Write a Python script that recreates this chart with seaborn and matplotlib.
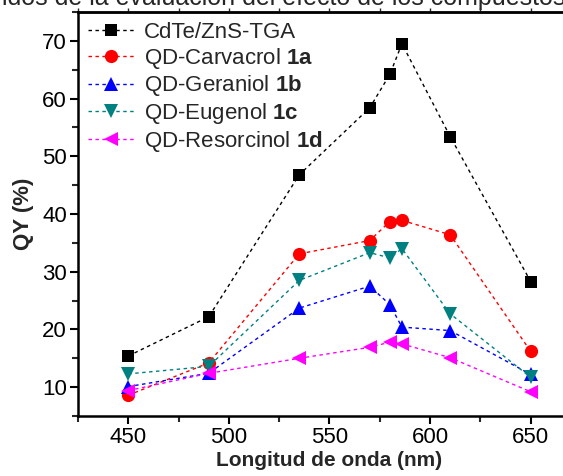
import matplotlib
matplotlib.use("Agg")
import matplotlib.pyplot as plt
from matplotlib.ticker import MultipleLocator
import pandas as pd
import seaborn as sns

# Emission wavelength (nm) and quantum yield (%) per sample
wavelength = [450, 490, 535, 570, 580, 586, 610, 650]
qy_cdte = [15.4, 22.2, 46.8, 58.4, 64.2, 69.5, 53.4, 28.3]
qy_carvacrol = [8.6, 14.2, 33.1, 35.4, 38.7, 38.9, 36.4, 16.2]
qy_geraniol = [10.1, 12.4, 23.7, 27.5, 24.3, 20.4, 19.8, 12.2]
qy_eugenol = [12.3, 13.6, 28.5, 33.3, 32.4, 34.0, 22.7, 11.7]
qy_resorcinol = [9.4, 12.4, 15.0, 16.9, 17.8, 17.5, 15.1, 9.2]

labels = [
    "CdTe/ZnS-TGA",
    r"QD-Carvacrol $\mathbf{1a}$",
    r"QD-Geraniol $\mathbf{1b}$",
    r"QD-Eugenol $\mathbf{1c}$",
    r"QD-Resorcinol $\mathbf{1d}$",
]
series = [qy_cdte, qy_carvacrol, qy_geraniol, qy_eugenol, qy_resorcinol]
colors = ["#000000", "#FF0000", "#0000FF", "#008080", "#FF00FF"]
markers = ["s", "o", "^", "v", "<"]
msizes = [8, 9.5, 10, 10, 10]

sns.set_style("ticks")
plt.rcParams["font.family"] = ["Liberation Sans", "DejaVu Sans"]
plt.rcParams["mathtext.fontset"] = "custom"
plt.rcParams["mathtext.rm"] = "Liberation Sans"
plt.rcParams["mathtext.bf"] = "Liberation Sans:bold"

fig = plt.figure(figsize=(5.63, 4.76), dpi=100)
ax = fig.add_axes([78 / 563, 60 / 476, 503 / 563, 404 / 476])

for lab, vals, c, m, ms in zip(labels, series, colors, markers, msizes):
    df = pd.DataFrame({"wl": wavelength, "qy": vals})
    sns.lineplot(data=df, x="wl", y="qy", ax=ax, color=c, marker=m,
                 markersize=ms, markeredgewidth=0, linewidth=1.0,
                 linestyle=(0, (2.5, 2.5)), label=lab, sort=False)

ax.set_xlim(425, 675)
ax.set_ylim(5, 75)
ax.xaxis.set_major_locator(MultipleLocator(50))
ax.xaxis.set_minor_locator(MultipleLocator(25))
ax.yaxis.set_major_locator(MultipleLocator(10))
ax.yaxis.set_minor_locator(MultipleLocator(5))
ax.tick_params(which="major", direction="out", length=6, width=1.5,
               labelsize=16, pad=2, colors="black")
ax.tick_params(which="minor", direction="out", length=4, width=1.5)
ax.tick_params(right=True, which="both")

top = ax.secondary_xaxis("top")
top.xaxis.set_major_locator(MultipleLocator(25))
top.tick_params(direction="out", length=3, width=1.0, labeltop=False)
top.spines["top"].set_linewidth(1.8)

for s in ax.spines.values():
    s.set_linewidth(1.8)
    s.set_color("black")

ax.set_xlabel("Longitud de onda (nm)", fontsize=15, fontweight="bold", labelpad=2)
ax.set_ylabel("QY (%)", fontsize=16, fontweight="bold", labelpad=6)

ax.legend(loc="upper left", bbox_to_anchor=(0.0, 1.0), frameon=False,
          fontsize=16, handlelength=2.1, handletextpad=0.4,
          labelspacing=0.12, borderaxespad=0.2, borderpad=0.25)

fig.text(0.004, 1 - 5 / 476, "idos de la evaluación del efecto de los compuestos",
         fontsize=18, ha="left", va="baseline")

fig.savefig("out.png", dpi=100)
